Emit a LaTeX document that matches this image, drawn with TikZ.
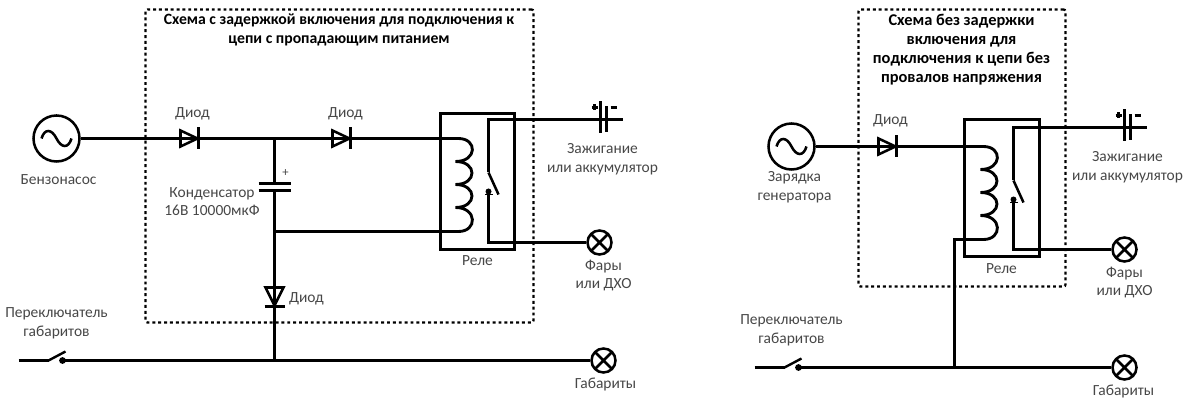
\documentclass[tikz,border=0pt]{standalone}
\usepackage{fontspec}
\setmainfont{Carlito}
\tikzset{
  x=0.75pt,y=-0.75pt,
  wire/.style={line width=2.15pt,line join=miter},
  thin wire/.style={line width=1.7pt},
  frame/.style={draw,line width=1.7pt,rounded corners=1.5pt,dash pattern=on 2.2pt off 2.2pt,inner sep=0pt},
  relaybox/.style={draw,line width=2.15pt,inner sep=0pt},
  round sym/.style={draw,circle,line width=1.9pt,inner sep=0pt,fill=white},
  lbl/.style={font=\fontsize{11.6pt}{13.9pt}\selectfont,text=black!72,align=center,inner sep=0pt},
  titleL/.style={font=\fontsize{11.8pt}{14.25pt}\selectfont\bfseries,align=center,inner sep=0pt},
  titleR/.style={font=\fontsize{12.3pt}{14.25pt}\selectfont\bfseries,align=center,inner sep=0pt},
  pics/diodesym/.style={code={
    \draw[line width=1.9pt,line join=miter] (-9,-8)--(-9,8)--(8,0)--cycle;
    \draw[wire] (9,-11)--(9,11);
  }},
  pics/diodedown/.style={code={
    \draw[line width=1.9pt,line join=miter] (-9,-9)--(9,-9)--(0,9)--cycle;
    \draw[wire] (-10,10)--(10,10);
  }},
  pics/sinesym/.style={code={
    \draw[line width=1.9pt] (-15,0) .. controls (-12,-10) and (-5,-10) .. (0,0) .. controls (5,10) and (12,10) .. (15,0);
  }},
  pics/crosssym/.style={code={
    \draw[line width=1.9pt] (-8,-8)--(8,8) (-8,8)--(8,-8);
  }},
  pics/coilsym/.style={code={
    \draw[wire] (0,0) .. controls (19,0) and (19,23) .. (-3,23)
      .. controls (19,23) and (19,46) .. (-3,46)
      .. controls (19,46) and (19,69) .. (-3,69)
      .. controls (19,69) and (19,93) .. (0,93);
  }},
  pics/battsym/.style={code={
    \draw[wire] (0,-18)--(0,14);
    \draw[wire] (6,-13)--(6,13);
    \draw[line width=1.7pt] (-9,-12)--(-3,-12) (-6,-15)--(-6,-9);
    \draw[line width=1.7pt] (10,-12)--(16,-12);
  }},
  pics/relayswitch/.style={code={
    \draw[line width=1.9pt] (0,0)--(10,22);
    \fill (0,19) circle (3);
    \fill (-4,21.5) rectangle (4,23);
  }},
  pics/opensw/.style={code={
    \draw[line width=1.8pt] (0,0)--(17,-9);
    \fill (14,0) circle (3.4);
  }}
}
\begin{document}
\begin{tikzpicture}
\useasboundingbox (0,0) rectangle (1200,413);
\begin{scope}[shift={(0.5,0.5)}]

% ===== left circuit =====
\node[frame,minimum width=291pt,minimum height=234.75pt] (boxL) at (339,165.5) {};
\node[relaybox,minimum width=55.5pt,minimum height=102pt] (relL) at (477,181) {};
\node[round sym,minimum size=34.5pt] (srcL) at (56,138) {};
\pic at (srcL.center) {sinesym};
\coordinate (d1L) at (189,138);
\coordinate (d2L) at (341,138);
\coordinate (jtop) at (274,138);
\coordinate (coilTL) at (458,138);
\coordinate (coilBL) at (458,231);
\coordinate (jmid) at (274,231);
\coordinate (c1) at (274,183);
\coordinate (c2) at (274,190);
\coordinate (d3) at (274,296);
\coordinate (jbot) at (274,360);
\coordinate (swL) at (48,360);
\coordinate (wireL) at (18,360);
\coordinate (battL) at (600,119);
\coordinate (battLr) at (622,119);
\coordinate (ctL) at (488,119);
\coordinate (cbL) at (488,242);
\coordinate (bladeL) at (488,172);
\node[round sym,minimum size=18pt] (lamp1) at (599,242) {};
\pic at (lamp1.center) {crosssym};
\node[round sym,minimum size=18pt] (lamp2) at (603,360) {};
\pic at (lamp2.center) {crosssym};

\draw[wire] (srcL.east) -- (coilTL);
\pic at (d1L) {diodesym};
\pic at (d2L) {diodesym};
\pic at (coilTL) {coilsym};
\draw[wire] (coilBL) -- (jmid);
\draw[wire] (jtop) -- (c1);
\draw[wire] (258,183) -- (290,183);
\draw[wire] (258,190) -- (290,190);
\draw[wire] (c2) -- (jbot);
\pic at (d3) {diodedown};
\draw[wire] (battL) -- (ctL) -- (bladeL);
\pic at (bladeL) {relayswitch};
\draw[wire] (488,192) -- (cbL) -- (lamp1.west);
\pic at (battL) {battsym};
\draw[wire] (battL) -- (battLr);
\draw[wire] (61,360) -- (lamp2.west);
\draw[thin wire] (wireL) -- (swL);
\pic at (swL) {opensw};

\node[titleL] (tL) at (338.5,29.5) {Схема с задержкой включения для подключения к\\цепи с пропадающим питанием};
\node[lbl] (l1) at (192,113) {Диод};
\node[lbl] (l2) at (345,113) {Диод};
\node[lbl] (l3) at (306,298) {Диод};
\node[lbl] (l4) at (58,179) {Бензонасос};
\node[lbl] (l5) at (211.5,201) {Конденсатор\\16В 10000мкФ};
\node[lbl,font=\fontsize{9.5pt}{10pt}\selectfont] (l6) at (285,173) {+};
\node[lbl] (l7) at (477,260) {Реле};
\node[lbl] (l8) at (602,159) {Зажигание\\или аккумулятор};
\node[lbl] (l9) at (603,275) {Фары\\или ДХО};
\node[lbl] (l10) at (56,323) {Переключатель\\габаритов};
\node[lbl] (l11) at (605,384) {Габариты};

% ===== right circuit =====
\node[frame,minimum width=155.25pt,minimum height=207.75pt] (boxR) at (961.5,147.5) {};
\node[relaybox,minimum width=56.25pt,minimum height=102.75pt] (relR) at (1001.5,187.5) {};
\node[round sym,minimum size=34.5pt] (srcR) at (791,146) {};
\pic at (srcR.center) {sinesym};
\coordinate (d1R) at (887,146);
\coordinate (coilTR) at (983,146);
\coordinate (coilBR) at (983,239);
\coordinate (elbow) at (954,239);
\coordinate (jR) at (954,367);
\coordinate (swR) at (784,367);
\coordinate (wireR) at (754,367);
\coordinate (battR) at (1124,127);
\coordinate (battRr) at (1146,127);
\coordinate (ctR) at (1013,127);
\coordinate (cbR) at (1013,249);
\coordinate (bladeR) at (1013,180);
\node[round sym,minimum size=18pt] (lamp3) at (1124,249) {};
\pic at (lamp3.center) {crosssym};
\node[round sym,minimum size=18pt] (lamp4) at (1124,367) {};
\pic at (lamp4.center) {crosssym};

\draw[wire] (srcR.east) -- (coilTR);
\pic at (d1R) {diodesym};
\pic at (coilTR) {coilsym};
\draw[wire] (coilBR) -- (elbow) -- (jR);
\draw[wire] (battR) -- (ctR) -- (bladeR);
\pic at (bladeR) {relayswitch};
\draw[wire] (1013,200) -- (cbR) -- (lamp3.west);
\pic at (battR) {battsym};
\draw[wire] (battR) -- (battRr);
\draw[wire] (797,367) -- (lamp4.west);
\draw[thin wire] (wireR) -- (swR);
\pic at (swR) {opensw};

\node[titleR] (tR) at (961,49) {Схема без задержки\\включения для\\подключения к цепи без\\провалов напряжения};
\node[lbl] (r1) at (890,120) {Диод};
\node[lbl] (r2) at (794,187) {Зарядка\\генератора};
\node[lbl] (r3) at (1001,268) {Реле};
\node[lbl] (r4) at (1127,167) {Зажигание\\или аккумулятор};
\node[lbl] (r5) at (1124,282) {Фары\\или ДХО};
\node[lbl] (r6) at (791,330) {Переключатель\\габаритов};
\node[lbl] (r7) at (1123,391) {Габариты};
\end{scope}
\end{tikzpicture}
\end{document}
